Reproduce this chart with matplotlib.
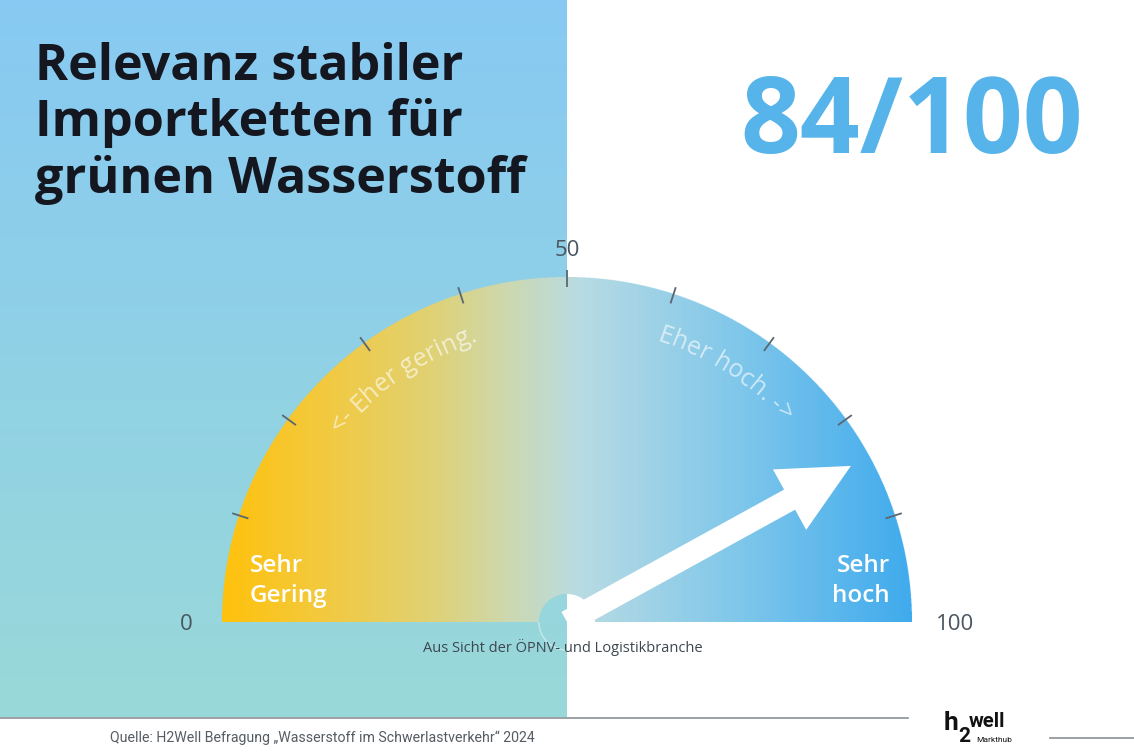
import numpy as np
import matplotlib
matplotlib.use("Agg")
import matplotlib.pyplot as plt
from matplotlib.colors import LinearSegmentedColormap
from matplotlib.patches import Wedge, Polygon
from matplotlib.font_manager import FontProperties

# Daten
titel_zeilen = ["Relevanz stabiler", "Importketten für", "grünen Wasserstoff"]
wert = 84
skala_max = 100
skala_labels = [0, 50, 100]
tick_werte = [10, 20, 30, 40, 50, 60, 70, 80, 90]
zone_links = "Sehr\nGering"
zone_rechts = "Sehr\nhoch"
bogen_links = "<- Eher gering."
bogen_rechts = "Eher hoch. ->"
untertitel = "Aus Sicht der ÖPNV- und Logistikbranche"
quelle = "Quelle: H2Well Befragung „Wasserstoff im Schwerlastverkehr“ 2024"

W, H = 1134, 756
CX, CY = 567, 622
R_AUSSEN, R_INNEN = 345, 28

fig = plt.figure(figsize=(W / 100, H / 100), dpi=100)
ax = fig.add_axes([0, 0, 1, 1])
ax.set_xlim(0, W)
ax.set_ylim(H, 0)
ax.axis("off")

# Hintergrund links: vertikaler Verlauf hellblau -> türkis
bg_cmap = LinearSegmentedColormap.from_list(
    "bg", [(0.53, 0.79, 0.95), (0.60, 0.85, 0.85)])
ax.imshow(np.linspace(0, 1, 256).reshape(-1, 1), cmap=bg_cmap, aspect="auto",
          extent=[0, CX, 717, 0], zorder=0)


def winkel(v):
    """Skalenwert -> Winkel in Grad (0 = rechts, 180 = links)."""
    return 180 - v / skala_max * 180


def punkt(r, grad):
    a = np.radians(grad)
    return CX + r * np.cos(a), CY - r * np.sin(a)


# Tacho mit horizontalem Farbverlauf (als RGBA-Bild mit Maske)
gauge_cmap = LinearSegmentedColormap.from_list("gauge", [
    (0.00, (1.00, 0.76, 0.05)),
    (0.15, (0.95, 0.79, 0.25)),
    (0.30, (0.88, 0.82, 0.45)),
    (0.42, (0.80, 0.85, 0.70)),
    (0.52, (0.72, 0.86, 0.89)),
    (0.75, (0.50, 0.78, 0.92)),
    (1.00, (0.25, 0.67, 0.93)),
])
ss = 3
nx, ny = 2 * R_AUSSEN * ss, R_AUSSEN * ss
xs = (np.arange(nx) + 0.5) / ss - R_AUSSEN
ys = R_AUSSEN - (np.arange(ny) + 0.5) / ss
gx, gy = np.meshgrid(xs, ys)
rr = np.hypot(gx, gy)
rgba = gauge_cmap((gx + R_AUSSEN) / (2 * R_AUSSEN))
rgba[..., 3] = ((rr <= R_AUSSEN) & (rr >= R_INNEN)).astype(float)
ax.imshow(rgba, aspect="auto", interpolation="antialiased",
          extent=[CX - R_AUSSEN, CX + R_AUSSEN, CY, CY - R_AUSSEN], zorder=1)
ax.add_patch(Wedge((CX, CY), R_INNEN + 0.8, 0, 180, width=1.4,
                   facecolor=(1, 1, 1, 0.45), edgecolor="none", zorder=2))

# Skalenstriche
for v in tick_werte:
    g = winkel(v)
    x0, y0 = punkt(R_AUSSEN - 10, g)
    x1, y1 = punkt(R_AUSSEN + 7, g)
    ax.plot([x0, x1], [y0, y1], color="#5b6670", lw=1.3, zorder=3,
            solid_capstyle="butt")

# Skalenbeschriftung
label_font = dict(family="Open Sans", fontsize=16, color="#4a5560")
for v in skala_labels:
    g = winkel(v)
    if v == 0:
        x, y = CX - R_AUSSEN - 36, CY + 2
    elif v == skala_max:
        x, y = CX + R_AUSSEN + 43, CY + 2
    else:
        x, y = punkt(R_AUSSEN + 30, g)
        y += 3
    ax.text(x, y, str(v), ha="center", va="center", **label_font)

# Zeiger
ga = np.radians(winkel(wert))
u = np.array([np.cos(ga), -np.sin(ga)])
n = np.array([np.sin(ga), np.cos(ga)])
c = np.array([CX, CY])
spitze = c + 324 * u
basis_kopf = spitze - 70 * u
schaft = 11.5
kopf = 34.5
pfeil = [c + n * schaft, basis_kopf + n * schaft, basis_kopf + n * kopf,
         spitze, basis_kopf - n * kopf, basis_kopf - n * schaft,
         c - n * schaft]
ax.add_patch(Polygon(pfeil, closed=True, facecolor="white",
                     edgecolor="none", zorder=4))

# Zonenbeschriftung
zone_font = dict(family="Open Sans", fontsize=17.5, color="white",
                 fontweight="semibold", linespacing=1.32)
ax.text(250, 581, zone_links, ha="left", va="center", **zone_font)
ax.text(890, 581, zone_rechts, ha="right", va="center",
        multialignment="right", **zone_font)

# Text entlang des Bogens
renderer = fig.canvas.get_renderer()
bogen_prop = FontProperties(family="Open Sans", size=18)


def bogentext(text, r, mitte):
    breiten = [renderer.get_text_width_height_descent(text[:i], bogen_prop,
                                                      ismath=False)[0]
               if i else 0.0 for i in range(len(text) + 1)]
    gesamt = breiten[-1]
    start = mitte + np.degrees(gesamt / 2 / r)
    for i, ch in enumerate(text):
        if ch == " ":
            continue
        pos = (breiten[i] + breiten[i + 1]) / 2
        g = start - np.degrees(pos / r)
        x, y = punkt(r, g)
        ax.text(x, y, ch, fontproperties=bogen_prop, color="white",
                alpha=0.62, ha="center", va="baseline", rotation=g - 90,
                rotation_mode="anchor", zorder=3)


bogentext(bogen_links, 295, 124)
bogentext(bogen_rechts, 295, 57.5)

# Titel und Wert
for i, zeile in enumerate(titel_zeilen):
    ax.text(35, 80 + i * 56.5, zeile, ha="left", va="baseline",
            family="Open Sans", fontweight="bold", fontsize=36.3,
            color="#14171f")
ax.text(912, 113, f"{wert}/{skala_max}", ha="center", va="center_baseline",
        family="Open Sans", fontweight="bold", fontsize=75.5, color="#56b4ea")

ax.text(CX - 4, 648, untertitel, ha="center", va="center", family="Open Sans",
        fontsize=10.5, color="#3d4650")

# Fußzeile
ax.plot([0, 908], [717.5, 717.5], color="#8a9096", lw=1.2, zorder=5)
ax.plot([1050, 1134], [738, 738], color="#8a9096", lw=1.2, zorder=5)
ax.text(110, 738, quelle, ha="left", va="center",
        family=["Liberation Sans Narrow", "Roboto"], fontsize=10.2,
        color="#555c63")

# Logo
ax.text(944, 730, "h", family="Roboto", fontweight="bold", fontsize=19,
        color="#111111", va="baseline")
ax.text(958, 742, "2", family="Roboto", fontweight="bold", fontsize=15,
        color="#111111", va="baseline")
ax.text(969, 727, "well", family="Roboto", fontweight="bold", fontsize=14.5,
        color="#111111", va="baseline")
ax.text(976, 742, "Markthub", family="Roboto", fontsize=6, color="#111111",
        va="baseline")

fig.savefig("out.png", dpi=100)
